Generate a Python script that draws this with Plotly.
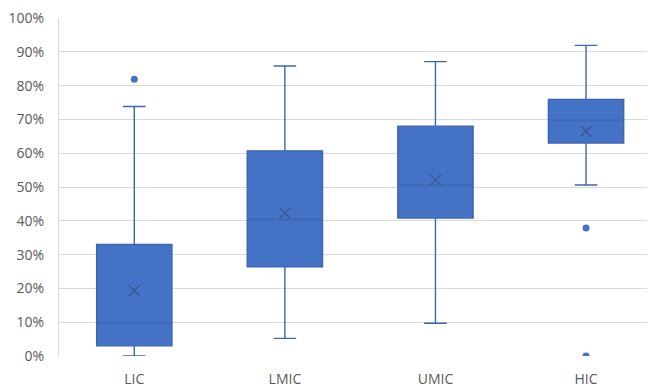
import plotly.graph_objects as go

categories = ["LIC", "LMIC", "UMIC", "HIC"]
q1 = [0.030, 0.264, 0.408, 0.630]
median = [0.098, 0.404, 0.505, 0.698]
q3 = [0.330, 0.607, 0.680, 0.759]
lowerfence = [0.0, 0.052, 0.097, 0.506]
upperfence = [0.738, 0.858, 0.871, 0.919]
means = [0.194, 0.423, 0.521, 0.665]
outlier_cats = ["LIC", "HIC", "HIC"]
outlier_vals = [0.819, 0.379, 0.0]
ytick_vals = [0, 0.1, 0.2, 0.3, 0.4, 0.5, 0.6, 0.7, 0.8, 0.9, 1.0]

FILL = "#4472C4"
EDGE = "#3C66B4"
DARK = "#35589A"
FONT = "'Open Sans', Lato, sans-serif"

fig = go.Figure()
fig.add_trace(go.Box(
    x=categories, q1=q1, median=median, q3=q3,
    lowerfence=lowerfence, upperfence=upperfence,
    fillcolor=FILL, line=dict(color=EDGE, width=1.4),
    width=0.5, whiskerwidth=0.3, boxpoints=False,
    showlegend=False, hoverinfo="skip",
))
fig.add_trace(go.Scatter(
    x=categories, y=means, mode="markers",
    marker=dict(symbol="x-thin", size=11, line=dict(color=DARK, width=1.3)),
    showlegend=False, hoverinfo="skip",
))
fig.add_trace(go.Scatter(
    x=outlier_cats, y=outlier_vals, mode="markers",
    marker=dict(symbol="circle", size=7, color=FILL),
    showlegend=False, hoverinfo="skip", cliponaxis=True,
))

fig.update_layout(
    width=655, height=388,
    margin=dict(l=51, r=0, t=10, b=40, autoexpand=False),
    paper_bgcolor="white", plot_bgcolor="white",
    font=dict(family=FONT, size=14, color="#595959"),
)
fig.update_xaxes(
    type="category", categoryorder="array", categoryarray=categories,
    range=[-0.5, 3.511], showgrid=False, showline=False, zeroline=False,
    ticks="", tickfont=dict(size=14, color="#595959"), automargin=False,
    ticklabelstandoff=13,
)
fig.update_yaxes(
    range=[0, 1.0], tickvals=ytick_vals, tickformat=".0%",
    showgrid=True, gridcolor="#D9D9D9", gridwidth=1,
    zeroline=False, showline=True, linecolor="#D9D9D9", mirror=False,
    ticks="", ticklabelstandoff=11, tickfont=dict(size=14, color="#595959"),
    automargin=False, ticklabeloverflow="allow",
)
fig.write_html("out.html")
